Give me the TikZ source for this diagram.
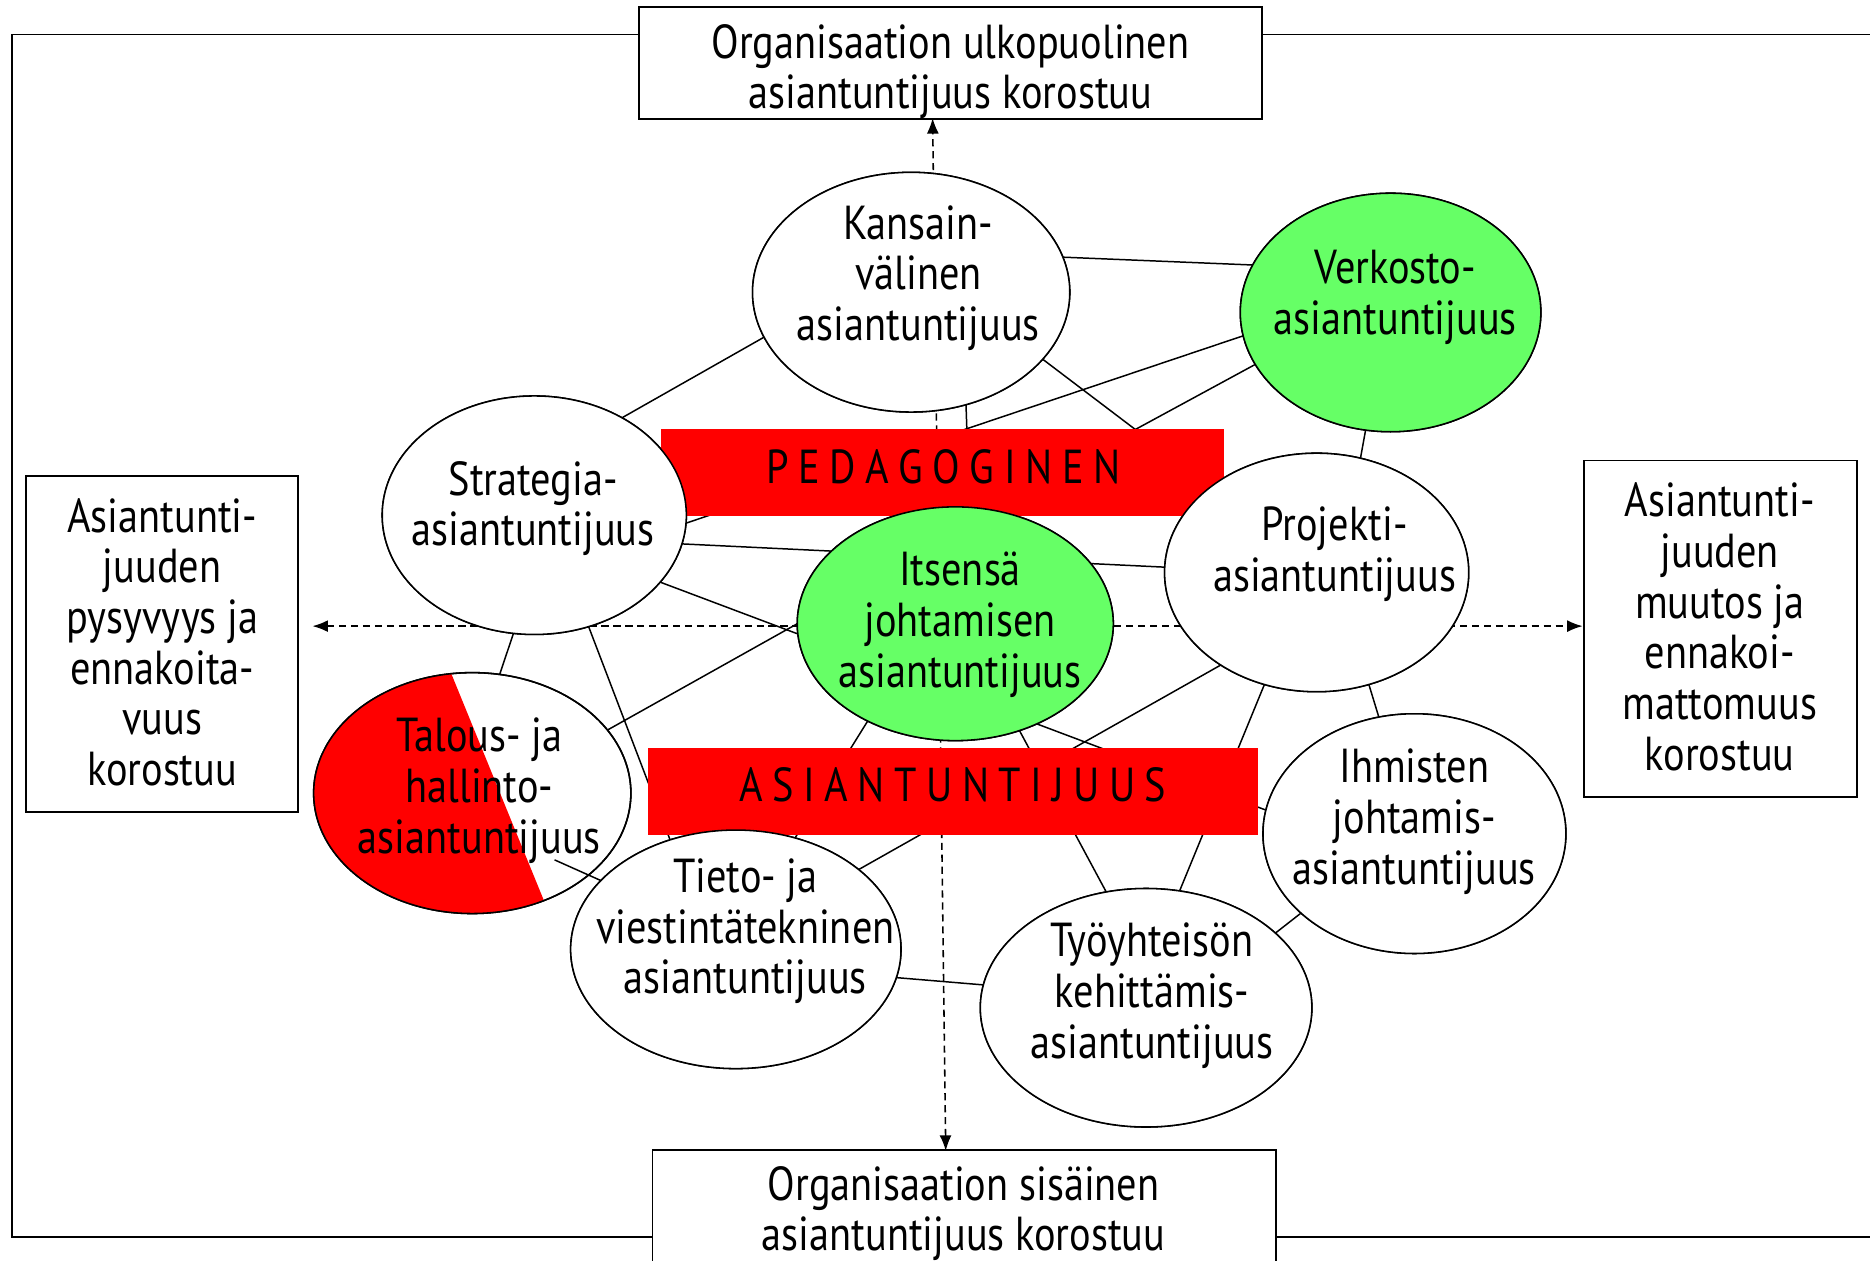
\documentclass[tikz,border=0pt]{standalone}
\usepackage{fontspec}
\setmainfont[FakeStretch=0.845]{PT Sans}
\usetikzlibrary{shapes.geometric,arrows.meta,calc}
\definecolor{mygreen}{HTML}{66FF66}
\definecolor{myred}{HTML}{FF0000}
\newcommand\lsp{\hspace{8pt}}
\begin{document}
\begin{tikzpicture}[x=1pt,y=-1pt,
  ell/.style={draw=black,line width=1.3pt,ellipse,inner sep=0pt,outer sep=0pt},
  txt/.style={align=center,font=\fontsize{40}{42.5}\selectfont,inner sep=0pt},
  boxn/.style={draw=black,line width=1.4pt,fill=white,inner sep=0pt,outer sep=0pt},
  redbar/.style={fill=myred,draw=none,inner sep=0pt,outer sep=0pt},
  conn/.style={line width=1.25pt},
  dsh/.style={line width=1.3pt,dash pattern=on 6pt off 4pt,{Latex[length=13pt,width=10pt]}-{Latex[length=13pt,width=10pt]}},
]
\useasboundingbox (0,0) rectangle (1568,1057);
\clip (0,0) rectangle (1568,1057);
% outer frame
\draw[line width=1.4pt] (10,29) rectangle (1600,1037);
% boxes
\node[boxn,minimum width=522pt,minimum height=94pt] (bt) at (797,53) {};
\node[boxn,minimum width=228pt,minimum height=282pt] (bl) at (136,540) {};
\node[boxn,minimum width=229pt,minimum height=282pt] (br) at (1442.5,527) {};
\node[boxn,minimum width=523pt,minimum height=130pt] (bb) at (808.5,1029) {};
\node[txt] (tt) at (797,60) {Organisaation ulkopuolinen\\asiantuntijuus korostuu};
\node[txt] (tl) at (136,538.5) {Asiantunti-\\juuden\\pysyvyys ja\\ennakoita-\\vuus\\korostuu};
\node[txt] (tr) at (1442,525.5) {Asiantunti-\\juuden\\muutos ja\\ennakoi-\\mattomuus\\korostuu};
\node[txt] (tb) at (808,1017.5) {Organisaation sisäinen\\asiantuntijuus korostuu};
% ellipse geometry (empty nodes)
\path
  node[ell,minimum width=266pt,minimum height=201pt] (kans) at (764,245) {}
  node[ell,minimum width=252pt,minimum height=200pt] (ver) at (1166,262) {}
  node[ell,minimum width=255pt,minimum height=200pt] (str) at (448,432) {}
  node[ell,minimum width=255pt,minimum height=200pt] (pro) at (1104,480) {}
  node[ell,minimum width=265pt,minimum height=196pt] (its) at (801,523) {}
  node[ell,minimum width=266pt,minimum height=202pt] (tal) at (396,665) {}
  node[ell,minimum width=254pt,minimum height=201pt] (ihm) at (1186,699) {}
  node[ell,minimum width=277pt,minimum height=200pt] (tie) at (617,796) {}
  node[ell,minimum width=278pt,minimum height=200pt] (tyo) at (961,845) {};
% dashed arrows
\draw[dsh] ($(bb.north)+(-15.5,1)$) -- ($(bt.south)+(-15,-1)$);
\draw[dsh] ($(bl.east)+(12,-15)$) -- ($(br.west)+(-1,-2)$);
% connections
\draw[conn] (kans.197.5) -- (str.48.7);
\draw[conn] (kans.13.7) -- (ver.161.9);
\draw[conn] (kans.296.6) -- (its.83);
\draw[conn] (kans.333.8) -- (pro.141);
\draw[conn] (ver.189.7) -- (str.357.8);
\draw[conn] (ver.201.7) -- (its.74.8);
\draw[conn] (ver.258.7) -- (pro.69);
\draw[conn] (str.349.1) -- (pro.178.6);
\draw[conn] (str.332) -- (ihm.171.6);
\draw[conn] (str.260.9) -- (tal.77.5);
\draw[conn] (str.296.1) -- (tie.121.6);
\draw[conn] (tal.25.2) -- (its.180.4);
\draw[conn] ([xshift=69pt,yshift=-56pt]tal.center) -- (tie.153.6);
\draw[conn] (its.228.7) -- (tie.62.7);
\draw[conn] (its.301.7) -- (tyo.109.7);
\draw[conn] (pro.224.3) -- (tie.33.8);
\draw[conn] (pro.245.4) -- (tyo.74.7);
\draw[conn] (pro.295.6) -- (ihm.107.4);
\draw[conn] (ihm.215.6) -- (tyo.30.4);
\draw[conn] (tie.350.9) -- (tyo.172.1);
% red bars
\node[redbar,minimum width=472pt,minimum height=73pt] (ped) at (790,396.5) {};
\node[redbar,minimum width=512pt,minimum height=73pt] (asi) at (799,663.5) {};
\node[txt] (pedt) at (791,391) {P\lsp E\lsp D\lsp A\lsp G\lsp O\lsp G\lsp I\lsp N\lsp E\lsp N};
\node[txt] (asit) at (799,658) {A\lsp S\lsp I\lsp A\lsp N\lsp T\lsp U\lsp N\lsp T\lsp I\lsp J\lsp U\lsp U\lsp S};
% ellipses on top
\fill[white] (kans.center) ellipse [x radius=133pt,y radius=100.5pt];
\draw[line width=1.3pt] (kans.center) ellipse [x radius=133pt,y radius=100.5pt];
\filldraw[fill=mygreen,line width=1.3pt] (ver.center) ellipse [x radius=126pt,y radius=100pt];
\filldraw[fill=white,line width=1.3pt] (str.center) ellipse [x radius=127.5pt,y radius=100pt];
\filldraw[fill=white,line width=1.3pt] (pro.center) ellipse [x radius=127.5pt,y radius=100pt];
\filldraw[fill=mygreen,line width=1.3pt] (its.center) ellipse [x radius=132.5pt,y radius=98pt];
\begin{scope}
  \clip (tal.center) ellipse [x radius=133pt,y radius=101pt];
  \fill[myred] (356,510) -- (474,799) -- (200,820) -- (200,500) -- cycle;
\end{scope}
\draw[line width=1.3pt] (tal.center) ellipse [x radius=133pt,y radius=101pt];
\filldraw[fill=white,line width=1.3pt] (ihm.center) ellipse [x radius=127pt,y radius=100.5pt];
\filldraw[fill=white,line width=1.3pt] (tie.center) ellipse [x radius=138.5pt,y radius=100pt];
\filldraw[fill=white,line width=1.3pt] (tyo.center) ellipse [x radius=139pt,y radius=100pt];
% ellipse texts
\node[txt] (kanst) at (770,233) {Kansain-\\välinen\\asiantuntijuus};
\node[txt] (vert) at (1170,249.5) {Verkosto-\\asiantuntijuus};
\node[txt] (strt) at (447,426.5) {Strategia-\\asiantuntijuus};
\node[txt] (prot) at (1119,464.5) {Projekti-\\asiantuntijuus};
\node[txt] (itst) at (805,524) {Itsensä\\johtamisen\\asiantuntijuus};
\node[txt] (talt) at (402,663) {Talous- ja\\hallinto-\\asiantuntijuus};
\node[txt] (ihmt) at (1186,689) {Ihmisten\\johtamis-\\asiantuntijuus};
\node[txt] (tiet) at (625,781) {Tieto- ja\\viestintätekninen\\asiantuntijuus};
\node[txt] (tyot) at (966,835) {Työyhteisön\\kehittämis-\\asiantuntijuus};
\end{tikzpicture}
\end{document}
